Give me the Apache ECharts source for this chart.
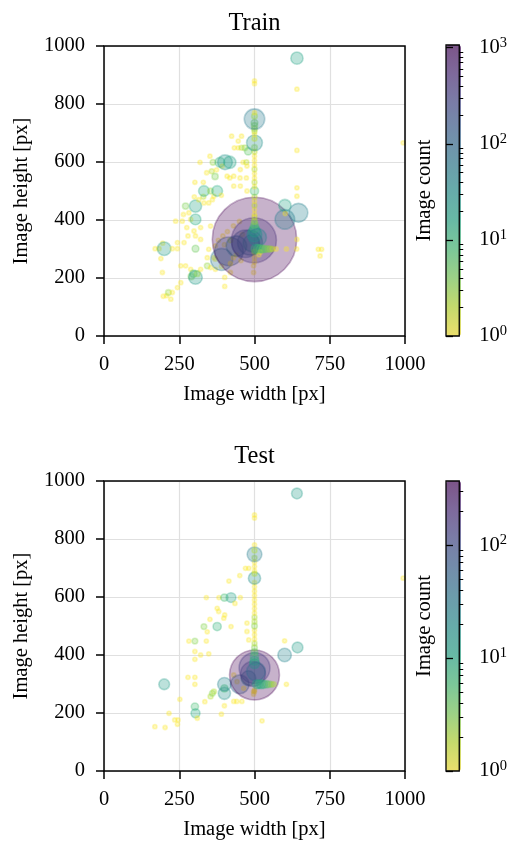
<!DOCTYPE html>
<html>
<head>
<meta charset="utf-8">
<script src="https://cdn.jsdelivr.net/npm/echarts@6.0.0/dist/echarts.min.js"></script>
<style>
html,body{margin:0;padding:0;background:#fff;}
#chart{width:510px;height:842px;}
</style>
</head>
<body>
<div id="chart"></div>
<script>
// ---------------- DATA ----------------
// [image width, image height, image count]
const trainPoints = [
  [500,333,1067],[498,330,300],[485,322,90],[470,318,110],[415,292,120],[391,264,70],[440,310,60],
  [490,320,40],[510,340,45],[500,350,30],[500,362,18],[500,372,10],[500,384,6],[500,395,3],
  [505,300,12],[512,300,10],[520,300,8],[528,300,6],[536,300,5],[545,300,4],[552,300,3],[560,300,2],
  [572,300,1],[606,300,1],[640,300,1],[712,299,1],[723,299,1],[718,276,1],[520,290,1],[515,280,1],
  [500,410,2],[500,420,1],[500,435,1],[500,450,2],[500,465,1],[500,480,2],[500,500,8],[500,515,1],
  [500,530,2],[500,545,1],[500,560,1],[500,575,2],[500,590,1],[500,605,1],[500,620,1],[500,635,2],
  [500,650,3],[500,666,35],[500,680,2],[500,695,1],[500,705,2],[500,715,3],[500,725,4],[500,735,5],
  [500,748,60],[500,758,3],[500,770,1],[500,870,1],[500,880,1],
  [500,290,2],[500,270,1],[500,255,1],[497,242,1],[497,219,1],
  [601,450,20],[646,425,50],[601,402,55],[602,422,1],[641,511,1],[641,482,1],[641,640,1],[641,851,1],
  [641,958,20],[994,666,1],[641,333,1],
  [402,599,30],[418,599,20],[385,599,12],[362,599,3],[319,599,1],[352,620,1],
  [424,689,1],[446,672,1],[457,689,1],[433,649,1],[446,649,1],[457,649,2],[468,649,3],[479,637,6],
  [462,599,1],[473,599,2],[341,563,1],[358,568,2],[374,573,1],[418,545,1],[452,545,1],[473,545,1],
  [302,530,1],[330,530,1],[369,550,4],[393,586,1],[409,551,1],[431,551,1],[453,574,1],[475,586,1],
  [431,517,1],[453,517,1],[475,500,1],[332,500,15],[376,500,15],[354,500,3],[390,485,1],[360,470,1],
  [271,448,4],[304,448,20],[315,470,1],[300,480,1],[330,480,2],[332,459,1],[348,459,1],[365,482,1],
  [264,419,1],[282,425,1],[288,402,1],[304,402,15],[238,396,1],[260,396,1],
  [275,374,1],[299,362,1],[321,374,1],[354,379,1],[279,345,1],[304,345,1],[321,333,1],
  [244,322,1],[266,322,1],[304,301,5],[348,299,1],[370,311,1],[343,270,1],[365,270,1],
  [170,301,1],[183,301,1],[227,301,1],[244,301,1],[200,301,25],[195,320,1],[189,267,1],[194,219,1],
  [255,242,1],[271,242,1],[288,230,1],[304,202,25],[297,215,6],[310,215,3],[290,205,4],
  [255,184,1],[244,167,1],[227,150,1],[208,139,1],[222,127,1],[214,150,3],[197,137,1],
  [321,230,1],[343,242,3],[354,236,1],[370,265,1],[401,171,1],[401,202,1],[420,219,1],
  [380,330,1],[395,345,1],[410,360,1],[430,380,1],[450,395,1],[460,350,1],[420,330,2],[400,315,1],
  [440,280,1],[420,250,1],[430,270,1],[455,260,1],[390,240,1],[370,230,1]
];
const testPoints = [
  [500,331,370],[500,355,140],[495,335,90],[505,343,50],[480,320,30],[451,299,50],[400,299,25],
  [400,268,20],[400,285,6],
  [508,299,10],[515,299,8],[522,299,10],[530,299,8],[540,299,6],[548,299,4],[556,299,3],[564,299,2],[606,299,1],
  [500,883,1],[500,872,1],[500,780,1],[500,760,2],[500,747,30],[500,735,2],[500,720,1],[500,705,1],
  [500,690,1],[500,680,2],[500,665,20],[500,650,1],[500,635,1],[500,620,1],[500,605,1],[500,590,1],
  [500,575,1],[500,560,1],[500,545,1],[500,530,2],[500,515,2],[500,500,3],[500,485,1],[500,470,1],
  [500,455,1],[500,440,2],[500,425,3],[500,410,5],[500,395,8],[500,380,10],[500,370,12],
  [500,280,1],[500,274,1],[497,265,1],
  [600,400,25],[643,426,15],[600,449,1],[641,957,15],[994,665,1],[525,173,1],
  [470,699,1],[481,699,1],[451,674,1],[415,655,1],[400,598,6],[422,598,12],[382,598,1],[453,598,1],
  [340,598,1],[435,578,1],[376,561,1],[381,550,1],[401,538,1],[398,527,1],[352,523,1],[332,498,3],
  [376,498,8],[422,498,1],[343,480,1],[282,448,1],[302,448,3],[340,448,1],[302,412,1],[302,385,1],
  [321,400,1],[348,404,1],[279,323,1],[302,323,1],[302,299,1],[252,247,1],[216,199,1],[235,176,1],
  [246,176,1],[244,161,1],[169,153,1],[203,150,1],[302,222,6],[304,199,10],[310,182,1],[200,299,15],
  [335,239,1],[354,257,2],[360,268,3],[365,274,2],[400,225,1],[390,196,1],[431,240,1],[441,240,1],
  [458,240,1],[475,510,1],[475,481,1],[481,452,1],[431,331,1],[442,308,1],[464,285,1],[497,274,1]
];
const xTicks = [0,250,500,750,1000];
const yTicks = [0,200,400,600,800,1000];
const trainCountMax = 1067;
const testCountMax = 370;

// ---------------- STYLE ----------------
const FONT = 'Liberation Serif';
const FS = 20.5;
const viridis = ['#440154','#482475','#414487','#355f8d','#2a788e','#21918c','#22a884','#44bf70','#7ad151','#bddf26','#fde725'];
const viridisRev = viridis.slice().reverse();
function hexRgb(hex){ return [parseInt(hex.slice(1,3),16), parseInt(hex.slice(3,5),16), parseInt(hex.slice(5,7),16)]; }
function withAlpha(hex, a){ const c = hexRgb(hex); return 'rgba('+c[0]+','+c[1]+','+c[2]+','+a+')'; }
const viridisRevCbar = viridisRev.map(c => withAlpha(c, 0.6));
function cmap(t){
  t = Math.max(0, Math.min(1, t));
  const p = t * (viridisRev.length - 1), i = Math.min(Math.floor(p), viridisRev.length - 2), f = p - i;
  const a = hexRgb(viridisRev[i]), b = hexRgb(viridisRev[i+1]);
  return 'rgb(' + a.map((v,k)=> Math.round(v + (b[k]-v)*f)).join(',') + ')';
}
const EDGE = 1.6;
function outerDiameter(n){ return 2*(Math.sqrt(1.65*n + 2) + 1); }

function prep(points, maxLog){
  return points.slice().sort((a,b)=> a[0]-b[0] || a[1]-b[1])
    .map(p => {
      const c = cmap(Math.log10(p[2]) / maxLog);
      return {value:[p[0], p[1], p[2]], symbolSize: outerDiameter(p[2]) - EDGE,
              itemStyle:{color:c, borderColor:c, borderWidth:EDGE}};
    });
}

const L = 104, W = 301, CBL = 446, CBW = 15;
const layout = [
  {title:'Train', top:46, height:290, cbTop:45, cbHeight:291, max:Math.log10(trainCountMax), titleY:23.5, pts:trainPoints},
  {title:'Test',  top:481, height:290, cbTop:481, cbHeight:290, max:Math.log10(testCountMax), titleY:457, pts:testPoints}
];

const grid=[], xAxis=[], yAxis=[], series=[], visualMap=[], graphic=[];
const textBase = {fontFamily:FONT, fontSize:FS, color:'#000'};

layout.forEach((Lo, i) => {
  const gMain = grid.length;
  grid.push({left:L, top:Lo.top, width:W, height:Lo.height, show:true, borderColor:'#000', borderWidth:1.5, backgroundColor:'transparent', z:3});
  const gCb = grid.length;
  grid.push({left:CBL, top:Lo.cbTop, width:CBW, height:Lo.cbHeight, show:true, borderColor:'#000', borderWidth:1.3, backgroundColor:'transparent', z:10});

  const xMain = xAxis.length;
  xAxis.push({
    gridIndex:gMain, type:'value', min:0, max:1000, interval:250,
    name:'Image width [px]', nameLocation:'middle', nameGap:48, nameTextStyle:textBase,
    axisLine:{show:false},
    axisTick:{show:true, length:8, lineStyle:{color:'#000', width:1.5}},
    axisLabel:{...textBase, margin:18, customValues:xTicks, formatter:(v)=> String(v)},
    splitLine:{show:true, lineStyle:{color:'#e0e0e0', width:1.2}}
  });
  const xCb = xAxis.length;
  xAxis.push({gridIndex:gCb, type:'value', min:0, max:1, show:false});

  const yMain = yAxis.length;
  yAxis.push({
    gridIndex:gMain, type:'value', min:0, max:1000, interval:200,
    name:'Image height [px]', nameLocation:'middle', nameGap:72, nameTextStyle:textBase,
    axisLine:{show:false},
    axisTick:{show:true, length:8, lineStyle:{color:'#000', width:1.5}},
    axisLabel:{...textBase, margin:19, customValues:yTicks, formatter:(v)=> String(v)},
    splitLine:{show:true, lineStyle:{color:'#e0e0e0', width:1.2}}
  });
  const majors=[], minors=[];
  for(let d=0; d<=3; d++){
    if(d <= Lo.max + 1e-9) majors.push(d);
    for(let k=2; k<=9; k++){ const v = d + Math.log10(k); if(v <= Lo.max) minors.push(v); }
  }
  const yCb = yAxis.length;
  yAxis.push({
    gridIndex:gCb, type:'value', min:0, max:Lo.max, position:'right', z:10,
    axisLine:{show:false},
    axisTick:{show:true, length:7, customValues:majors, lineStyle:{color:'#000', width:1.3}},
    axisLabel:{
      margin:20, customValues:majors,
      formatter:(v)=> '{b|10}{s|' + Math.round(v) + '}',
      rich:{
        b:{fontFamily:FONT, fontSize:FS, color:'#000', lineHeight:24},
        s:{fontFamily:FONT, fontSize:14.5, color:'#000', verticalAlign:'top', lineHeight:16}
      }
    },
    splitLine:{show:false}
  });
  yAxis.push({
    gridIndex:gCb, type:'value', min:0, max:Lo.max, position:'right', z:10,
    axisLine:{show:false},
    axisTick:{show:true, length:4, customValues:minors, lineStyle:{color:'#000', width:1}},
    axisLabel:{show:false}, splitLine:{show:false}
  });
  yAxis.push({
    gridIndex:gCb, type:'value', min:0, max:Lo.max, position:'left',
    name:'Image count', nameLocation:'middle', nameGap:11, nameTextStyle:textBase,
    axisLine:{show:false}, axisTick:{show:false}, axisLabel:{show:false}, splitLine:{show:false}
  });

  series.push({
    type:'scatter', xAxisIndex:xMain, yAxisIndex:yMain,
    data: prep(Lo.pts, Lo.max),
    itemStyle:{opacity:0.3},
    emphasis:{disabled:true},
    animation:false, z:2
  });
  // empty carrier series for the colorbar
  const carrier = series.length;
  series.push({type:'scatter', xAxisIndex:xCb, yAxisIndex:yCb, data:[], silent:true});
  visualMap.push({
    type:'continuous', seriesIndex:carrier, dimension:1, min:0, max:Lo.max,
    calculable:false, hoverLink:false, realtime:false, padding:0,
    left:CBL, top:Lo.cbTop, itemWidth:CBW, itemHeight:Lo.cbHeight,
    text:null, showLabel:false,
    inRange:{color:viridisRev},
    controller:{inRange:{color:viridisRevCbar}}
  });
  graphic.push({
    type:'text', x:L + W/2, y:Lo.titleY,
    style:{text:Lo.title, fill:'#000', font:'24.5px "' + FONT + '"', align:'center', verticalAlign:'middle'}
  });
});

const chart = echarts.init(document.getElementById('chart'), null, {renderer:'canvas'});
chart.setOption({
  backgroundColor:'#fff',
  animation:false,
  grid, xAxis, yAxis, series, visualMap, graphic
});
</script>
</body>
</html>
